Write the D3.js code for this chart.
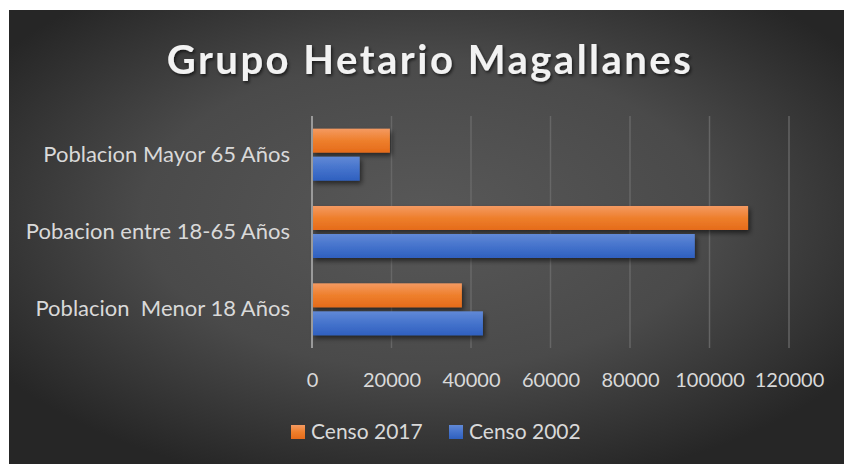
<!DOCTYPE html>
<html><head><meta charset="utf-8">
<script src="https://cdn.jsdelivr.net/npm/d3@7"></script>
<style>
html,body{margin:0;padding:0;background:#fff;}
svg{display:block;}
</style></head>
<body>
<svg id="chart" width="844" height="464"></svg>
<script>
const title = "Grupo Hetario Magallanes";
const categories = ["Poblacion Mayor 65 Años", "Pobacion entre 18-65 Años", "Poblacion  Menor 18 Años"];
const seriesNames = ["Censo 2017", "Censo 2002"];
const censo2017 = [19600, 109700, 37700];
const censo2002 = [12000, 96300, 43000];
const tickValues = [0, 20000, 40000, 60000, 80000, 100000, 120000];

const svg = d3.select("#chart");
const defs = svg.append("defs");

// background
const bg = defs.append("radialGradient").attr("id","bg")
  .attr("cx","50%").attr("cy","45%").attr("r","62%").attr("fx","50%").attr("fy","45%");
bg.append("stop").attr("offset","0%").attr("stop-color","#585858");
bg.append("stop").attr("offset","55%").attr("stop-color","#4a4a4a");
bg.append("stop").attr("offset","100%").attr("stop-color","#262626");

const grads = [
  ["g0", "#f49a62", "#ee7f2c", "#e56b1a"],
  ["g1", "#6189d6", "#4573cc", "#2f60bf"]
];
grads.forEach(([id,a,b,c])=>{
  const g = defs.append("linearGradient").attr("id",id).attr("x1",0).attr("y1",0).attr("x2",0).attr("y2",1);
  g.append("stop").attr("offset","0%").attr("stop-color",a);
  g.append("stop").attr("offset","50%").attr("stop-color",b);
  g.append("stop").attr("offset","100%").attr("stop-color",c);
});
const sh = defs.append("filter").attr("id","shadow").attr("x","-10%").attr("y","-30%").attr("width","130%").attr("height","180%");
sh.append("feDropShadow").attr("dx",2).attr("dy",3).attr("stdDeviation",2.5).attr("flood-color","#000").attr("flood-opacity",0.55);
const tsh = defs.append("filter").attr("id","tshadow").attr("x","-10%").attr("y","-30%").attr("width","120%").attr("height","160%");
tsh.append("feDropShadow").attr("dx",1.5).attr("dy",2).attr("stdDeviation",1.5).attr("flood-color","#000").attr("flood-opacity",0.6);

svg.append("rect").attr("x",9).attr("y",10).attr("width",835).attr("height",454).attr("fill","url(#bg)");

const font = "Lato, 'Open Sans', sans-serif";

svg.append("text").attr("x",430).attr("y",74).attr("text-anchor","middle")
  .attr("font-family",font).attr("font-weight","bold").attr("font-size",40)
  .attr("letter-spacing",2.5).attr("fill","#f2f2f2").attr("filter","url(#tshadow)")
  .text(title);

const x = d3.scaleLinear().domain([0,120000]).range([312,789]);
const y0 = d3.scaleBand().domain(categories).range([116,348]).padding(0);
const y1 = d3.scaleBand().domain(seriesNames).range([0,y0.bandwidth()]).paddingInner(1/7).paddingOuter(0.452);

// gridlines
svg.append("g").selectAll("line").data(tickValues.slice(1)).join("line")
  .attr("x1",d=>x(d)).attr("x2",d=>x(d)).attr("y1",116).attr("y2",348)
  .attr("stroke","#6b6b6b").attr("stroke-opacity",0.85).attr("stroke-width",1.5);

// bars
const values = [censo2017, censo2002];
const groups = svg.append("g").selectAll("g").data(categories).join("g")
  .attr("transform",d=>`translate(0,${y0(d)})`);
groups.selectAll("rect").data((d,i)=>seriesNames.map((s,j)=>({s,j,v:values[j][i]}))).join("rect")
  .attr("x",x(0)).attr("y",d=>y1(d.s)).attr("height",y1.bandwidth())
  .attr("width",d=>x(d.v)-x(0)).attr("fill",d=>`url(#g${d.j})`).attr("filter","url(#shadow)");

// category axis line
svg.append("line").attr("x1",x(0)).attr("x2",x(0)).attr("y1",116).attr("y2",348)
  .attr("stroke","#9a9a9a").attr("stroke-width",2);

// x axis
const xAxis = svg.append("g").attr("transform","translate(0,380)")
  .call(d3.axisBottom(x).tickValues(tickValues).tickSize(0).tickPadding(0).tickFormat(d3.format("d")));
xAxis.select(".domain").remove();
xAxis.selectAll("text").attr("font-family",font).attr("font-size",20).attr("fill","#d9d9d9").attr("dy","0.35em");

// y axis labels
const yAxis = svg.append("g").attr("transform","translate(290,0)")
  .call(d3.axisLeft(y0).tickSize(0).tickPadding(0));
yAxis.select(".domain").remove();
yAxis.selectAll("text").attr("font-family",font).attr("font-size",22).attr("fill","#d9d9d9").style("white-space","pre").attr("xml:space","preserve");

// legend
const legX = [291, 449];
const leg = svg.append("g").selectAll("g").data(seriesNames).join("g")
  .attr("transform",(d,i)=>`translate(${legX[i]},425)`);
leg.append("rect").attr("width",14).attr("height",14).attr("fill",(d,i)=>`url(#g${i})`);
leg.append("text").attr("x",20).attr("y",7).attr("dy","0.35em")
  .attr("font-family",font).attr("font-size",21).attr("fill","#d9d9d9").text(d=>d);
</script>
</body></html>
